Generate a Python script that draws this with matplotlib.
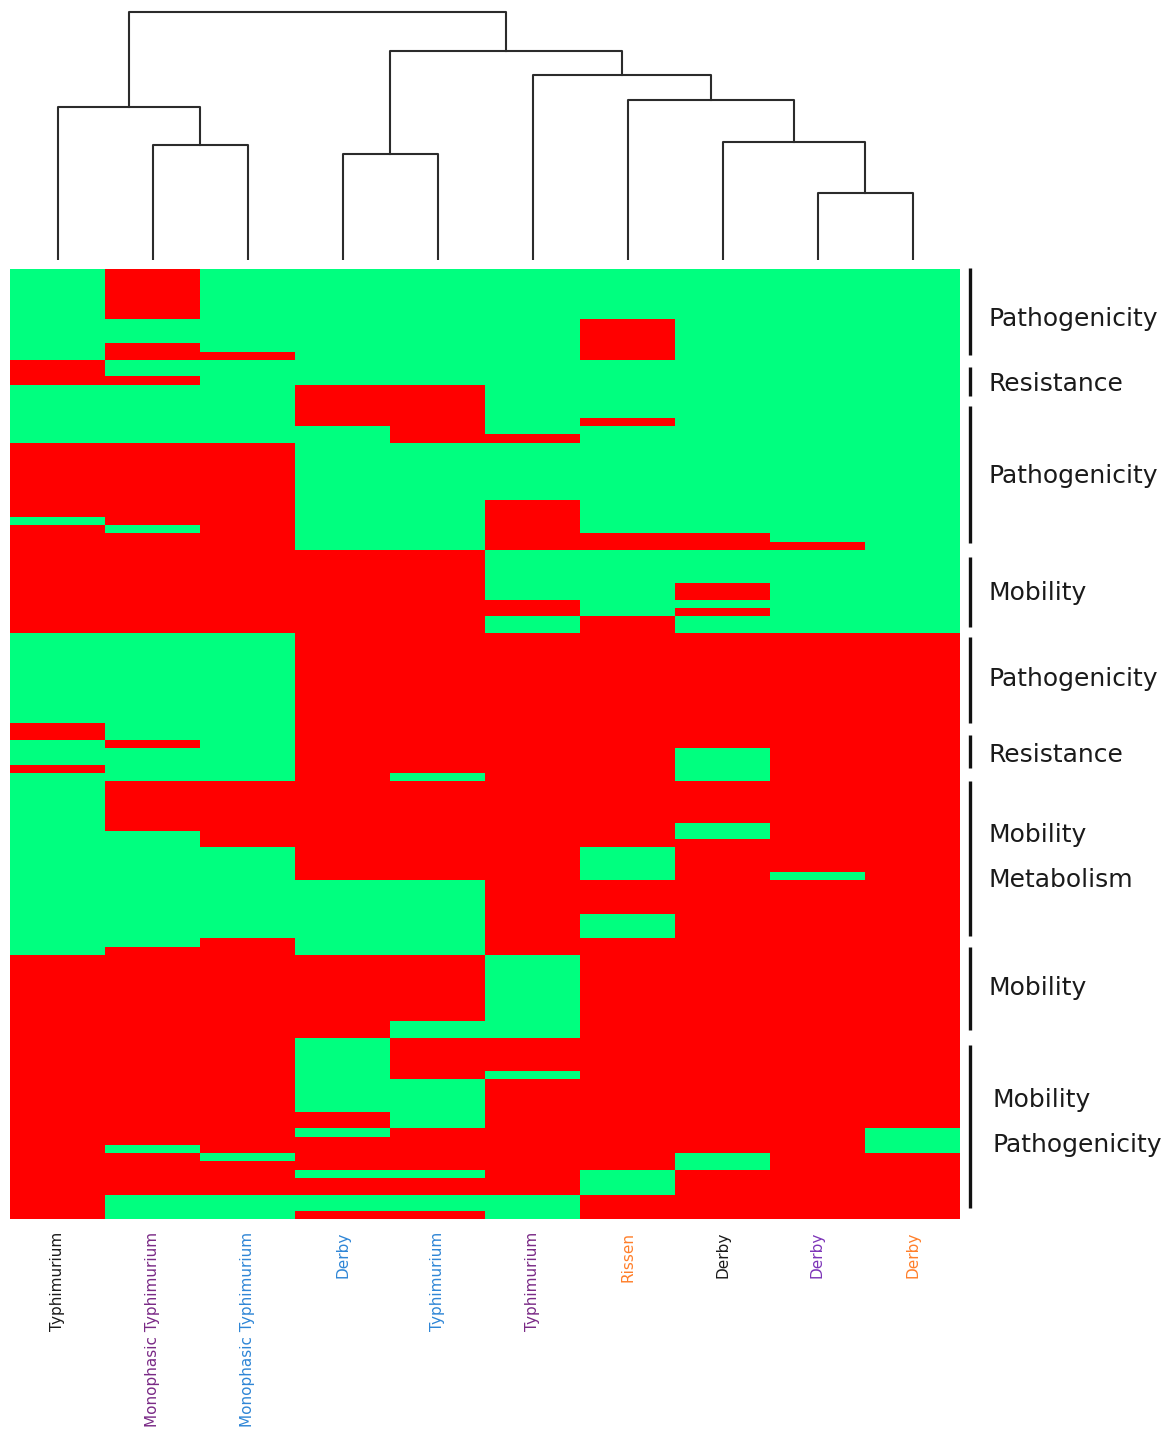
import numpy as np
import matplotlib
matplotlib.use("Agg")
import matplotlib.pyplot as plt
from matplotlib.colors import ListedColormap

plt.rcParams['font.family'] = ['DejaVu Sans']

# strains along the x axis (clustered order) and their label colours
strains = ["Typhimurium", "Monophasic Typhimurium", "Monophasic Typhimurium", "Derby",
           "Typhimurium", "Typhimurium", "Rissen", "Derby", "Derby", "Derby"]
label_colors = ["#1a1a1a", "#7a2a86", "#2f86d6", "#2f86d6", "#2f86d6",
                "#7a2a86", "#ff7f2a", "#1a1a1a", "#7d35b8", "#ff7f2a"]

# gene presence per strain, run-length coded from the top row: (value, n_rows)
# 1 = green, 0 = red
col0 = [(1, 11), (0, 3), (1, 7), (0, 9), (1, 1), (0, 13), (1, 11), (0, 2), (1, 3), (0, 1), (1, 22), (0, 32)]
col1 = [(0, 6), (1, 3), (0, 2), (1, 2), (0, 1), (1, 7), (0, 10), (1, 1), (0, 12), (1, 13), (0, 1), (1, 4),
        (0, 6), (1, 14), (0, 24), (1, 1), (0, 5), (1, 3)]
col2 = [(1, 10), (0, 1), (1, 10), (0, 23), (1, 18), (0, 8), (1, 11), (0, 26), (1, 1), (0, 4), (1, 3)]
col3 = [(1, 14), (0, 5), (1, 15), (0, 40), (1, 9), (0, 10), (1, 9), (0, 2), (1, 1), (0, 4), (1, 1), (0, 2),
        (1, 2), (0, 1)]
col4 = [(1, 14), (0, 7), (1, 13), (0, 27), (1, 1), (0, 12), (1, 9), (0, 8), (1, 2), (0, 5), (1, 6), (0, 5),
        (1, 1), (0, 2), (1, 2), (0, 1)]
col5 = [(1, 20), (0, 1), (1, 7), (0, 6), (1, 6), (0, 2), (1, 2), (0, 39), (1, 10), (0, 4), (1, 1), (0, 14),
        (1, 3)]
col6 = [(1, 6), (0, 5), (1, 7), (0, 1), (1, 13), (0, 2), (1, 8), (0, 28), (1, 4), (0, 4), (1, 3), (0, 28),
        (1, 3), (0, 3)]
col7 = [(1, 32), (0, 2), (1, 4), (0, 2), (1, 1), (0, 1), (1, 2), (0, 14), (1, 4), (0, 5), (1, 2), (0, 38),
        (1, 2), (0, 6)]
col8 = [(1, 33), (0, 1), (1, 10), (0, 29), (1, 1), (0, 41)]
col9 = [(1, 44), (0, 60), (1, 3), (0, 8)]
columns = [col0, col1, col2, col3, col4, col5, col6, col7, col8, col9]

# hierarchical clustering merges: (left, right, height); new nodes numbered from 10
linkage = [(8, 9, 0.667), (3, 4, 1.063), (1, 2, 1.150), (7, 10, 1.177), (0, 12, 1.533),
           (6, 13, 1.597), (5, 15, 1.847), (11, 16, 2.093), (14, 17, 2.477)]

# functional groups on the right: (bracket start row, bracket end row, [(text, row)])
groups = [
    (-0.1, 10.4, [("Pathogenicity", 6.05)]),
    (11.9, 15.4, [("Resistance", 13.9)]),
    (16.6, 33.2, [("Pathogenicity", 25.0)]),
    (34.9, 43.3, [("Mobility", 39.2)]),
    (44.5, 55.0, [("Pathogenicity", 49.6)]),
    (56.4, 60.4, [("Resistance", 58.8)]),
    (62.0, 80.7, [("Mobility", 68.5), ("Metabolism", 73.9)]),
    (82.1, 92.1, [("Mobility", 87.0)]),
    (93.9, 113.6, [("Mobility", 100.6), ("Pathogenicity", 106.0)]),
]


def expand(runs):
    return np.concatenate([np.full(n, v) for v, n in runs])


matrix = np.column_stack([expand(c) for c in columns])
n_rows, n_cols = matrix.shape

W, H = 1171, 1430
fig = plt.figure(figsize=(W / 100, H / 100), dpi=100)

# heatmap
ax = fig.add_axes([10 / W, 1 - 1219.3 / H, 950 / W, 950.3 / H])
cmap = ListedColormap(["#ff0000", "#00ff7f"])
ax.pcolormesh(np.arange(n_cols + 1), np.arange(n_rows + 1), matrix, cmap=cmap, vmin=0, vmax=1)
ax.set_xlim(0, n_cols)
ax.set_ylim(n_rows, 0)
for s in ax.spines.values():
    s.set_visible(False)
ax.set_yticks([])
ax.set_xticks(np.arange(n_cols) + 0.5)
ax.set_xticklabels(strains, rotation=90, fontsize=11)
ax.tick_params(axis='x', length=0, pad=9)
for lab, c in zip(ax.get_xticklabels(), label_colors):
    lab.set_color(c)

# side brackets with category labels
for start, end, texts in groups:
    ax.plot([10.105, 10.105], [start, end], color="#111111", lw=2.4, clip_on=False,
            solid_capstyle='butt')
    for txt, row in texts:
        xt = 10.337 if start > 93 else 10.295
        ax.text(xt, row, txt, fontsize=18, color="#1a1a1a", va='center', ha='left')

# dendrogram on top
dax = fig.add_axes([10 / W, 1 - 260 / H, 950 / W, 255 / H])
pos = {i: i + 0.5 for i in range(n_cols)}
hgt = {i: 0.0 for i in range(n_cols)}
for k, (a, b, h) in enumerate(linkage):
    node = n_cols + k
    xa, xb = pos[a], pos[b]
    dax.plot([xa, xa, xb, xb], [hgt[a], h, h, hgt[b]], color="#2b2b2b", lw=1.5)
    pos[node] = (xa + xb) / 2
    hgt[node] = h
dax.set_xlim(0, n_cols)
dax.set_ylim(0, 2.55)
dax.axis('off')

plt.savefig("out.png", dpi=100)
